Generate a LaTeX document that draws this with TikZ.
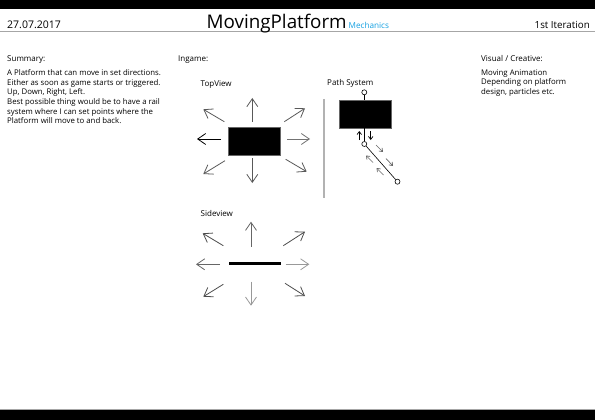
\documentclass[tikz,border=0pt]{standalone}
\usepackage{fontspec}
\setmainfont{Open Sans}
\usepackage{tikz}
\usetikzlibrary{arrows.meta, positioning, calc}
\usepackage{xcolor}
\definecolor{mechblue}{RGB}{20,160,225}
\tikzstyle{platform} = [rectangle, draw=black!60, fill=black, inner sep=0pt]
\tikzstyle{dirarrow} = [line width=0.8pt, -{Straight Barb[length=8pt,width=11pt]}]
\tikzstyle{patharrow} = [line width=0.7pt, -{Straight Barb[length=3pt,width=4.5pt]}]
\tikzstyle{waypoint} = [circle, draw=black, fill=white, line width=0.6pt, inner sep=0pt, minimum size=5pt]
\tikzstyle{headtext} = [inner sep=0pt, anchor=base west, font=\fontsize{10.5}{12}\selectfont]
\tikzstyle{caption} = [inner sep=0pt, anchor=base west, font=\fontsize{8}{10}\selectfont]
\tikzstyle{bodytext} = [inner sep=0pt, anchor=north west, align=left, font=\fontsize{7.8}{9.7}\selectfont]

\begin{document}
\begin{tikzpicture}[x=1pt, y=-1pt]
  \useasboundingbox (0,0) rectangle (595,420);
  \fill[black] (0,0) rectangle (595,9.5);
  \fill[black] (0,410) rectangle (595,420);
  \draw[gray!70, line width=1.2pt] (0,31.7) -- (595,31.7);
  \draw[gray!70, line width=1pt] (0,409.3) -- (595,409.3);

  \node[headtext] (date) at (7,28.3) {27.07.2017};
  \node[headtext, font=\fontsize{18.8}{22}\selectfont] (title) at (206.5,28.3) {MovingPlatform};
  \node[headtext, anchor=base west, font=\fontsize{8.2}{10}\selectfont, text=mechblue, xshift=1.5pt] (mech) at (title.base east) {Mechanics};
  \node[headtext, anchor=base east, font=\fontsize{9.8}{12}\selectfont] (iter) at (590,28.3) {1st Iteration};

  \node[caption] (summary) at (7,61.5) {Summary:};
  \node[bodytext] (sumtext) at (7,69.2) {A Platform that can move in set directions.\\Either as soon as game starts or triggered.\\Up, Down, Right, Left.\\Best possible thing would be to have a rail\\system where I can set points where the\\Platform will move to and back.};
  \node[caption] (ingame) at (178,61.5) {Ingame:};
  \node[caption] (visual) at (481,61.5) {Visual / Creative:};
  \node[bodytext] (vistext) at (481,69.2) {Moving Animation\\Depending on platform\\design, particles etc.};

  \node[caption] (topview) at (200.5,86.5) {TopView};
  \node[platform, minimum width=52pt, minimum height=28pt] (topplat) at (254,141) {};
  \foreach \nm/\col/\sx/\sy/\ex/\ey in {up/black!65/252.3/121.7/252.3/98, down/black!65/252.3/158/252.3/183, left/black/221/139/197/139, right/black!55/287/139/310/139, ul/black!65/224.3/121.7/203.3/109.3, ur/black!65/284.3/121.7/305/108.3, ll/black!65/225/160.7/203.3/174, lr/black!65/285.7/159.3/306.7/171.7} {
    \coordinate (tv-\nm-s) at (\sx,\sy);
    \coordinate (tv-\nm-e) at (\ex,\ey);
    \draw[dirarrow, draw=\col] (tv-\nm-s) -- (tv-\nm-e);
  }

  \node[caption] (pathsys) at (327,86) {Path System};
  \coordinate (divtop) at (324,99);
  \coordinate (divbot) at (324,198);
  \draw[gray!60, line width=1.5pt] (divtop) -- (divbot);
  \node[platform, minimum width=51.7pt, minimum height=27pt] (pathplat) at (365,114.2) {};
  \node[waypoint] (ptop) at (364.3,92.3) {};
  \node[waypoint] (pmid) at (364.3,144) {};
  \node[waypoint] (pend) at (397.5,181.7) {};
  \draw[line width=0.6pt] (ptop) -- (ptop |- pathplat.north);
  \draw[line width=0.6pt] (pathplat.south -| pmid) -- (pmid);
  \draw[line width=0.6pt] (pmid) -- (pend);
  \foreach \nm/\col/\sx/\sy/\ex/\ey in {a/black/359.3/140/359.3/131, b/black/370.7/131/370.7/140, c/black!60/376/145/383/152, d/black!60/386/158.5/393/166, e/black!60/373/162.5/366/155.5, f/black!60/383.5/175/376.5/168} {
    \coordinate (ps-\nm-s) at (\sx,\sy);
    \coordinate (ps-\nm-e) at (\ex,\ey);
    \draw[patharrow, draw=\col] (ps-\nm-s) -- (ps-\nm-e);
  }

  \node[caption] (sideview) at (200.5,216.5) {Sideview};
  \node[platform, fill=black, draw=none, minimum width=51.7pt, minimum height=3.6pt] (sideplat) at (254.9,263.6) {};
  \foreach \nm/\col/\sx/\sy/\ex/\ey in {up/black!60/251/246.7/251/221.7, down/black!40/251/281.7/251/305.7, left/black!60/220/264.3/196/264.3, right/black!40/285.7/264.3/309.3/264.3, ul/black!70/223.3/245.7/202.7/233.3, ur/black!70/283.3/245.7/305/231.7, ll/black!70/223.3/284.3/203.3/296.7, lr/black!70/285/283.3/305/296} {
    \coordinate (sv-\nm-s) at (\sx,\sy);
    \coordinate (sv-\nm-e) at (\ex,\ey);
    \draw[dirarrow, draw=\col] (sv-\nm-s) -- (sv-\nm-e);
  }
\end{tikzpicture}
\end{document}
